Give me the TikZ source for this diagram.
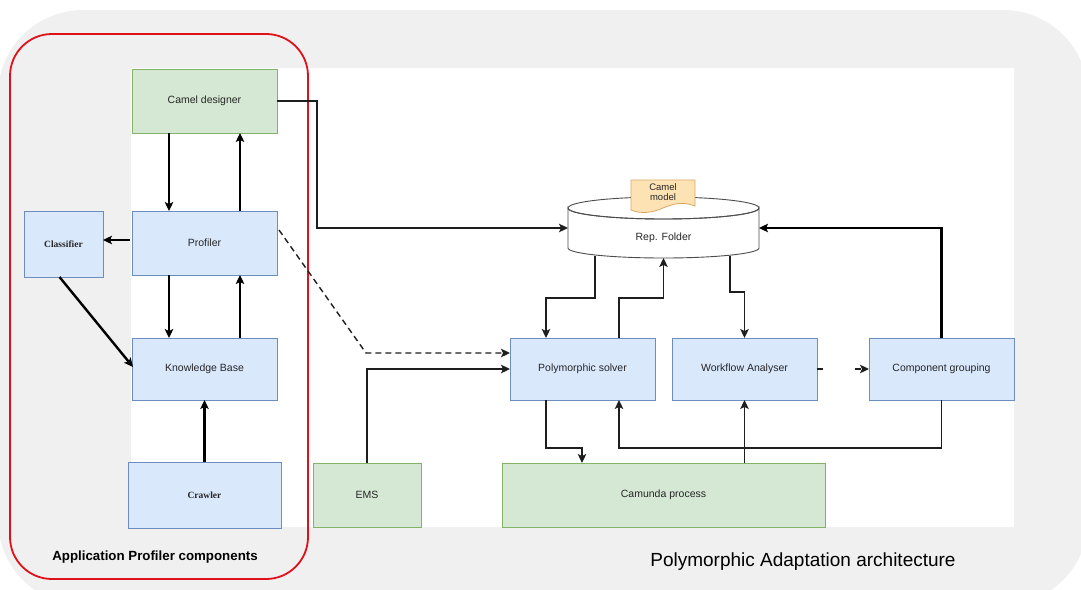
\documentclass[tikz,border=0pt]{standalone}
\usepackage{fontspec}
\setmainfont{Liberation Sans}
\newfontfamily\serifbold{Liberation Serif}
\usetikzlibrary{arrows.meta,calc}
\definecolor{bgray}{HTML}{F0F0F0}
\definecolor{gfill}{HTML}{D5E8D4}
\definecolor{gdraw}{HTML}{82B366}
\definecolor{bfill}{HTML}{DAE8FC}
\definecolor{bdraw}{HTML}{6C8EBF}
\definecolor{docfill}{HTML}{FDE3B4}
\definecolor{docdraw}{HTML}{D8A863}
\definecolor{redline}{HTML}{E0101A}
\definecolor{lineink}{HTML}{1E1E1E}
\tikzset{
  basebox/.style={rectangle, inner sep=2pt, outer sep=0pt, line width=1pt,
    font=\fontsize{10.5}{12}\selectfont, text=black!85},
  gbox/.style={basebox, fill=gfill, draw=gdraw},
  bbox/.style={basebox, fill=bfill, draw=bdraw},
  arr/.style={draw=lineink, line width=1.4pt, -{Stealth[length=9pt,width=8.5pt,inset=2pt]}},
  arrT/.style={draw=black, line width=2.4pt, -{Stealth[length=9pt,width=8.5pt,inset=2pt]}},
}
\begin{document}
\begin{tikzpicture}[x=1pt,y=-1pt]
\useasboundingbox (0,0) rectangle (1081,589);
\clip (0,0) rectangle (1081,589);
% backgrounds
\fill[bgray, rounded corners=85pt] (-2,10) rectangle (1088,605);
\fill[white] (131,68) rectangle (1014,527);
\draw[redline, line width=1.8pt, rounded corners=42pt] (10,34) rectangle (308,579);

% boxes
\node[gbox, minimum width=145pt, minimum height=64pt] (cd) at (204.5,101) {Camel designer};
\node[bbox, minimum width=145pt, minimum height=64pt] (prof) at (204.5,243) {Profiler};
\node[bbox, minimum width=79pt, minimum height=66pt, font=\serifbold\bfseries\fontsize{9.5}{11}\selectfont] (cls) at (63.5,244) {Classifier};
\node[bbox, minimum width=145pt, minimum height=62pt] (kb) at (204.5,369) {Knowledge Base};
\node[bbox, minimum width=153pt, minimum height=66pt, font=\serifbold\bfseries\fontsize{9.5}{11}\selectfont] (crw) at (204.5,495) {Crawler};
\node[gbox, minimum width=108pt, minimum height=64pt] (ems) at (367,495) {EMS};
\node[gbox, minimum width=323pt, minimum height=64pt] (cam) at (663.5,495) {Camunda process};
\node[bbox, minimum width=145pt, minimum height=62pt] (ps) at (582.5,369) {Polymorphic solver};
\node[bbox, minimum width=145pt, minimum height=62pt] (wa) at (744.5,369) {Workflow Analyser};
\node[bbox, minimum width=145pt, minimum height=62pt] (cg) at (941.5,369) {Component grouping};

% cylinder (Rep. Folder)
\filldraw[fill=white, draw=black!70, line width=0.9pt]
  (568,208) -- (568,248) arc[start angle=180, end angle=360, x radius=95.5pt, y radius=10pt]
  -- (759,208) arc[start angle=0, end angle=-180, x radius=95.5pt, y radius=11pt] -- cycle;
\draw[draw=black!70, line width=0.9pt] (663.5,208) ellipse[x radius=95.5pt, y radius=11pt];
\node[minimum width=191pt, minimum height=60pt, inner sep=0pt, outer sep=0pt,
  label={[yshift=-10pt, font=\fontsize{10.5}{12}\selectfont, text=black!85]center:Rep. Folder}] (rep) at (663.5,228) {};

% document (Camel model)
\filldraw[fill=docfill, draw=docdraw, line width=0.8pt]
  (631,180) -- (695,180) -- (695,206)
  .. controls (682,201) and (673,204) .. (663,208)
  .. controls (652,213) and (640,214) .. (631,210) -- cycle;
\node[font=\fontsize{9.5}{10.5}\selectfont, align=center, text=black!85, inner sep=0pt] (cm) at (663,192) {Camel\\model};

% connectors in the profiler group
\draw[arrT] ($(cd.south west)+(37,0)$) -- ($(prof.north west)+(37,0)$);
\draw[arrT] ($(prof.north west)+(108,0)$) -- ($(cd.south west)+(108,0)$);
\draw[arrT] ($(prof.south west)+(37,0)$) -- ($(kb.north west)+(37,0)$);
\draw[arrT] ($(kb.north west)+(108,0)$) -- ($(prof.south west)+(108,0)$);
\draw[arrT] ($(prof.west)+(-2,-3)$) -- ($(cls.east)+(0,-4)$);
\draw[arrT] ($(cls.south)+(-4,0)$) -- ($(kb.west)+(1,-2)$);
\draw[arrT] (crw.north) -- (kb.south);

% other connectors
\draw[arr] (cd.east) -- ++(40,0) |- (rep.west);
\draw[arr, dash pattern=on 6pt off 4pt] ($(prof.east)+(2,-13)$) -- ($(ps.west)+(-144,-16)$) -- ($(ps.west)+(0,-16)$);
\draw[arr] (ems.north) |- (ps.west);
\draw[arr] ($(rep.south west)+(27,-2)$) -- ++(0,42) -| ($(ps.north west)+(36,0)$);
\draw[arr] ($(ps.north west)+(109,0)$) -- ++(0,-40) -| (rep.south);
\draw[arr] ($(rep.south east)+(-29,-2)$) -- ++(0,36) -| (wa.north);
\draw[arr, dash pattern=on 6pt off 32pt] (wa.east) -- (cg.west);
\draw[arrT] (cg.north) |- (rep.east);
\draw[arr] (cg.south) -- ++(0,48) -| ($(ps.south west)+(109,0)$);
\draw[arr] ($(ps.south west)+(36,0)$) -- ++(0,48) -| ($(cam.north west)+(80,0)$);
\draw[arr] (cam.north -| wa.south) -- (wa.south);

% captions
\node[font=\bfseries\fontsize{13.3}{16}\selectfont] (apc) at (155,557) {Application Profiler components};
\node[font=\fontsize{19}{22}\selectfont] (pat) at (803,562) {Polymorphic Adaptation architecture};
\end{tikzpicture}
\end{document}
